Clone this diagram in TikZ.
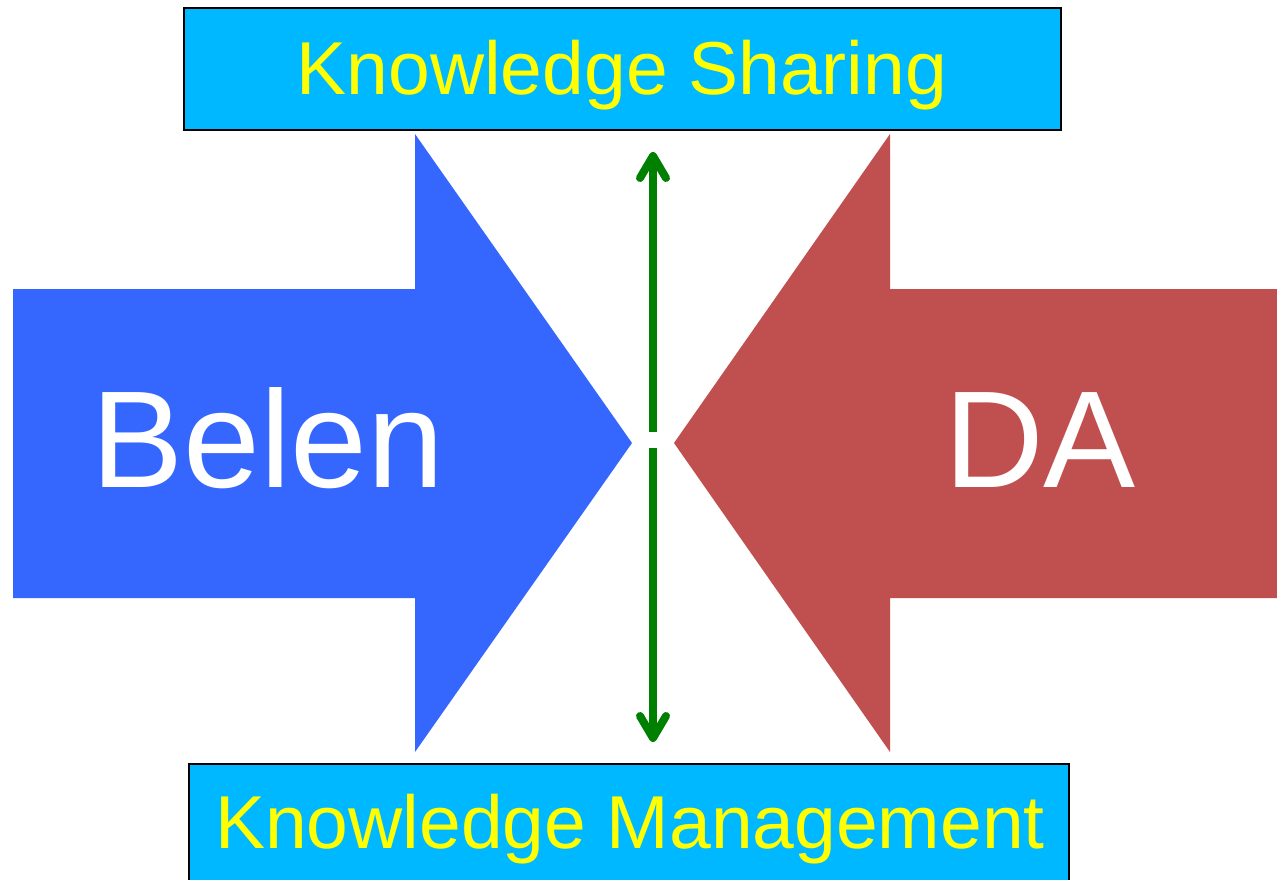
\documentclass[tikz,border=0pt]{standalone}
\usepackage{fontspec}
\setmainfont{Liberation Sans}
\usetikzlibrary{arrows.meta}
\definecolor{cyanbox}{HTML}{00B8FF}
\definecolor{bluearr}{HTML}{3567FF}
\definecolor{redarr}{HTML}{C0504F}
\definecolor{greenarr}{HTML}{008000}
\definecolor{txtyellow}{HTML}{FFFF00}
\tikzset{
  box/.style={draw=black,line width=1.6pt,fill=cyanbox},
  boxtext/.style={text=txtyellow,font=\fontsize{75}{78}\selectfont,anchor=base,inner sep=0pt},
  bigtext/.style={text=white,font=\fontsize{138}{142}\selectfont,anchor=base,inner sep=0pt},
  link/.style={draw=greenarr,line width=8pt,-{Straight Barb[length=22pt,width=26pt,line cap=round,line join=round]}}
}
\begin{document}
\begin{tikzpicture}[x=1pt,y=-1pt]
\useasboundingbox (0,0) rectangle (1277,880);
% boxes
\draw[box] (184,8) rectangle (1061,130);
\draw[box] (189,764) rectangle (1069,884);
% arrows
\fill[bluearr] (13,289) -- (415,289) -- (415,134) -- (632,443) -- (415,752) -- (415,598) -- (13,598) -- cycle;
\fill[redarr] (1280,289) -- (890,289) -- (890,134) -- (674,443) -- (890,752) -- (890,598) -- (1280,598) -- cycle;
% texts
\node[boxtext] (ks) at (622,95) {Knowledge Sharing};
\node[boxtext] (km) at (630,848) {Knowledge Management};
\node[bigtext] (belen) at (268,487) {Belen};
\node[bigtext] (da) at (1040,487) {DA};
% green connectors
\coordinate (gtop) at (653,152);
\coordinate (gmid1) at (653,432);
\coordinate (gmid2) at (653,448);
\coordinate (gbot) at (653,742);
\draw[link] (gmid1) -- (gtop);
\draw[link] (gmid2) -- (gbot);
\end{tikzpicture}
\end{document}
